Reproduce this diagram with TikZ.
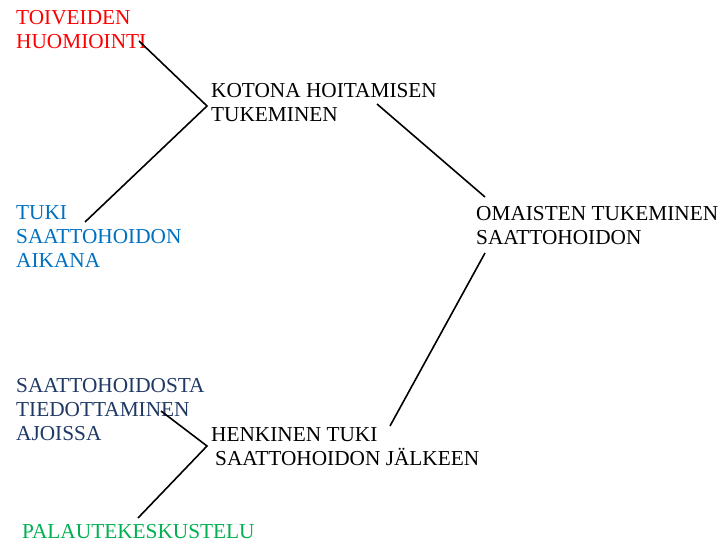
\documentclass[tikz,border=0pt]{standalone}
\usepackage{fontspec}
\setmainfont{Liberation Serif}
\definecolor{cred}{RGB}{255,0,0}
\definecolor{cblue}{RGB}{0,112,192}
\definecolor{cdark}{RGB}{31,56,100}
\definecolor{cgreen}{RGB}{0,176,80}
\begin{document}
\begin{tikzpicture}[x=1pt,y=-1pt,
  lbl/.style={anchor=north west,inner sep=0pt,align=left,font=\fontsize{21.3}{24}\selectfont},
  conn/.style={draw=black,line width=1.6pt}]
\useasboundingbox (0,0) rectangle (728,548);
\node[lbl,text=cred] (toive) at (16,10) {TOIVEIDEN\\HUOMIOINTI};
\node[lbl] (koto) at (211,83) {KOTONA HOITAMISEN\\TUKEMINEN};
\node[lbl,text=cblue] (tuki) at (16,205) {TUKI\\SAATTOHOIDON\\AIKANA};
\node[lbl] (omai) at (476,206) {OMAISTEN TUKEMINEN\\SAATTOHOIDON};
\node[lbl,text=cdark] (tied) at (16,378) {SAATTOHOIDOSTA\\TIEDOTTAMINEN\\AJOISSA};
\node[lbl] (henk) at (211,427) {HENKINEN TUKI\\\hspace*{4pt}SAATTOHOIDON JÄLKEEN};
\node[lbl,text=cgreen] (pala) at (22,524) {PALAUTEKESKUSTELU};
\coordinate (j1) at (207,106);
\coordinate (j2) at (207,446);
\coordinate (t1) at (139,41);
\coordinate (t2) at (85,222);
\coordinate (k1) at (377,104);
\coordinate (o1) at (485,197);
\coordinate (o2) at (485,253);
\coordinate (h1) at (390,426);
\coordinate (d1) at (161,411);
\coordinate (p1) at (138,518);
\draw[conn] (t1) -- (j1) -- (t2);
\draw[conn] (k1) -- (o1);
\draw[conn] (o2) -- (h1);
\draw[conn] (d1) -- (j2) -- (p1);
\end{tikzpicture}
\end{document}
